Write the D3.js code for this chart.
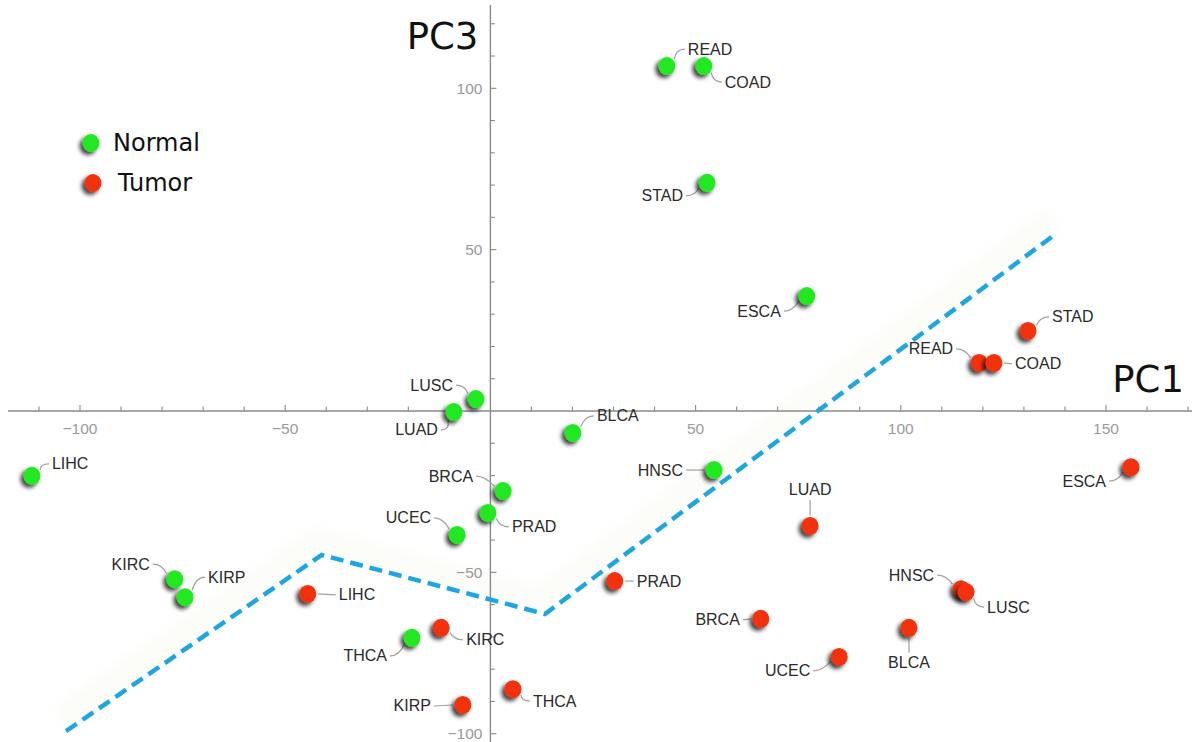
<!DOCTYPE html>
<html><head><meta charset="utf-8">
<script src="https://cdn.jsdelivr.net/npm/d3@7"></script>
<style>body{margin:0;background:#fff}svg{display:block}</style>
</head><body>
<svg id="chart" width="1196" height="742"></svg>
<script>
// ---- data ----
const normalNames = ["READ","COAD","STAD","ESCA","LUSC","LUAD","BLCA","HNSC","BRCA","PRAD","UCEC","LIHC","KIRC","KIRP","THCA"];
const normalPC1   = [43.0, 52.0, 52.8, 77.1, -3.5, -8.9, 20.1, 54.5, 3.1, -0.6, -8.1, -111.7, -76.9, -74.4, -19.1];
const normalPC3   = [106.9, 106.9, 70.7, 35.6, 3.7, -0.3, -6.8, -18.3, -24.8, -31.6, -38.4, -20.1, -52.1, -57.7, -70.3];
const tumorNames  = ["LIHC","KIRC","KIRP","THCA","PRAD","LUAD","BRCA","UCEC","BLCA","HNSC","LUSC","STAD","READ","COAD","ESCA"];
const tumorPC1    = [-44.5, -12.0, -6.7, 5.5, 30.3, 77.9, 65.9, 85.0, 102.0, 114.7, 115.9, 131.0, 119.1, 122.7, 156.1];
const tumorPC3    = [-56.7, -67.2, -91.1, -86.2, -52.7, -35.6, -64.4, -76.2, -67.2, -55.2, -56.1, 24.8, 14.9, 14.9, -17.4];
const boundaryPC1 = [-103.4, -41.1, 13.3, 138.1];
const boundaryPC3 = [-99.2, -44.6, -62.9, 55.2];
const xTickLabels = [-100, -50, 50, 100, 150];
const yTickLabels = [100, 50, -50, -100];
const legendLabels = ["Normal", "Tumor"];

// ---- label layout (pixel offsets from the point) ----
const normalLabelPos = [[21,-17,"start"],[21,16,"start"],[-24,13,"end"],[-26,15,"end"],[-23,-14,"end"],[-16,18,"end"],[24,-17,"start"],[-31,0,"end"],[-30,-15,"end"],[24,14,"start"],[-26,-17,"end"],[20,-12,"start"],[-25,-15,"end"],[23,-20,"start"],[-25,18,"end"]];
const tumorLabelPos  = [[31,1,"start"],[25,12,"start"],[-32,1,"end"],[20,12,"start"],[22,0,"start"],[0,-36,"middle"],[-21,1,"end"],[-29,14,"end"],[0,35,"middle"],[-27,-14,"end"],[21,15,"start"],[24,-14,"start"],[-26,-14,"end"],[21,1,"start"],[-25,14,"end"]];

const GREEN = "#22e822", RED = "#f2300e";
const svg = d3.select("#chart");
const x = d3.scaleLinear().domain([-100, 150]).range([80, 1106]);
const y = d3.scaleLinear().domain([-100, 100]).range([733.7, 88.3]);

const defs = svg.append("defs");
const f = defs.append("filter").attr("id","sh").attr("x","-60%").attr("y","-60%").attr("width","220%").attr("height","220%");
f.append("feDropShadow").attr("dx",-3).attr("dy",3).attr("stdDeviation",2).attr("flood-color","#000").attr("flood-opacity",0.75);
const fb = defs.append("filter").attr("id","blur");
fb.append("feGaussianBlur").attr("stdDeviation",6);

const boundary = boundaryPC1.map((v,i)=>[v, boundaryPC3[i]]);
const line = d3.line().x(d=>x(d[0])).y(d=>y(d[1]));

// faint band
svg.append("path").attr("d", line(boundary)).attr("transform","translate(-4,-14)")
  .attr("fill","none").attr("stroke","#f4f4ea").attr("stroke-width",24).attr("filter","url(#blur)").attr("opacity",0.35);

// axes
const axisColor = "#8a8a8a";
const xAxisY = y(0), yAxisX = x(0);
svg.append("line").attr("x1",8).attr("x2",1192).attr("y1",xAxisY).attr("y2",xAxisY).attr("stroke",axisColor).attr("stroke-width",1.4);
svg.append("line").attr("x1",yAxisX).attr("x2",yAxisX).attr("y1",5).attr("y2",742).attr("stroke",axisColor).attr("stroke-width",1.4);

const xMinor = d3.range(-110, 171, 10).filter(v=>v!==0);
svg.selectAll(".xt").data(xMinor).enter().append("line")
  .attr("x1",d=>x(d)).attr("x2",d=>x(d)).attr("y1",xAxisY).attr("y2",d=> xAxisY - (d%50===0?6:4.5))
  .attr("stroke",axisColor).attr("stroke-width",1.1);
const yMinor = d3.range(-110, 121, 10).filter(v=>v!==0);
svg.selectAll(".yt").data(yMinor).enter().append("line")
  .attr("y1",d=>y(d)).attr("y2",d=>y(d)).attr("x1",yAxisX).attr("x2",d=> yAxisX + (d%50===0?6:4.5))
  .attr("stroke",axisColor).attr("stroke-width",1.1);

const tickFont = "'Liberation Sans', Arial, sans-serif";
svg.selectAll(".xl").data(xTickLabels).enter().append("text")
  .attr("x",d=>x(d)).attr("y",xAxisY+17).attr("text-anchor","middle").attr("dominant-baseline","central")
  .attr("font-family",tickFont).attr("font-size",15.5).attr("fill","#9a9a9a")
  .text(d=> d<0 ? "\u2212"+Math.abs(d) : d);
svg.selectAll(".yl").data(yTickLabels).enter().append("text")
  .attr("x",yAxisX-8).attr("y",d=>y(d)).attr("text-anchor","end").attr("dominant-baseline","central")
  .attr("font-family",tickFont).attr("font-size",15.5).attr("fill","#9a9a9a")
  .text(d=> d<0 ? "\u2212"+Math.abs(d) : d);

// axis titles
const titleFont = "'DejaVu Sans', sans-serif";
svg.append("text").attr("x",yAxisX-12).attr("y",36).attr("text-anchor","end").attr("dominant-baseline","central")
  .attr("font-family",titleFont).attr("font-size",37).attr("fill","#111").text("PC3");
svg.append("text").attr("x",1184).attr("y",379).attr("text-anchor","end").attr("dominant-baseline","central")
  .attr("font-family",titleFont).attr("font-size",37).attr("fill","#111").text("PC1");

// boundary dashed line
svg.append("path").attr("d", line(boundary)).attr("fill","none").attr("stroke","#1ea6e2")
  .attr("stroke-width",4.5).attr("stroke-dasharray","13,7");

// points & labels
function drawGroup(names, xs, ys, pos, color, cls){
  const data = names.map((n,i)=>({name:n, px:x(xs[i]), py:y(ys[i]), dx:pos[i][0], dy:pos[i][1], anchor:pos[i][2]}));
  const r = 8.5;
  svg.selectAll(".ld"+cls).data(data).enter().append("path")
    .attr("fill","none").attr("stroke","#a0a0a0").attr("stroke-width",1.2)
    .attr("d", d=>{
      const tx = d.px + d.dx, ty = d.py + d.dy;
      if (d.anchor === "middle") {
        const s = Math.sign(d.dy);
        return `M${d.px},${d.py + s*(r+2)}L${tx},${ty - s*10}`;
      }
      const sgn = d.anchor === "start" ? 1 : -1;
      const ex = tx - sgn*3, ey = ty;
      const vx = ex - d.px, vy = ey - d.py, L = Math.hypot(vx,vy);
      const sx = d.px + vx/L*(r+1.5), sy = d.py + vy/L*(r+1.5);
      if (Math.abs(ey - d.py) < 3) return `M${sx},${d.py}L${ex},${ey}`;
      return `M${sx},${sy}Q${ex - sgn*9},${ey} ${ex},${ey}`;
    });
  svg.selectAll(".pt"+cls).data(data).enter().append("ellipse")
    .attr("cx",d=>d.px).attr("cy",d=>d.py).attr("rx",r).attr("ry",r+0.5)
    .attr("fill",color).attr("filter","url(#sh)");
  svg.selectAll(".lb"+cls).data(data).enter().append("text")
    .attr("x",d=>d.px+d.dx).attr("y",d=>d.py+d.dy).attr("text-anchor",d=>d.anchor).attr("dominant-baseline","central")
    .attr("font-family",tickFont).attr("font-size",16).attr("fill","#2a2a2a").text(d=>d.name);
}
drawGroup(normalNames, normalPC1, normalPC3, normalLabelPos, GREEN, "n");
drawGroup(tumorNames, tumorPC1, tumorPC3, tumorLabelPos, RED, "t");

// legend
const legendColors = [GREEN, RED];
const legendPos = [[91,143,113],[93,183,118]];
legendLabels.forEach((l,i)=>{
  svg.append("ellipse").attr("cx",legendPos[i][0]).attr("cy",legendPos[i][1]).attr("rx",8.5).attr("ry",9)
    .attr("fill",legendColors[i]).attr("filter","url(#sh)");
  svg.append("text").attr("x",legendPos[i][2]).attr("y",legendPos[i][1]).attr("dominant-baseline","central")
    .attr("font-family",titleFont).attr("font-size",24).attr("fill","#111").text(l);
});
</script>
</body></html>
